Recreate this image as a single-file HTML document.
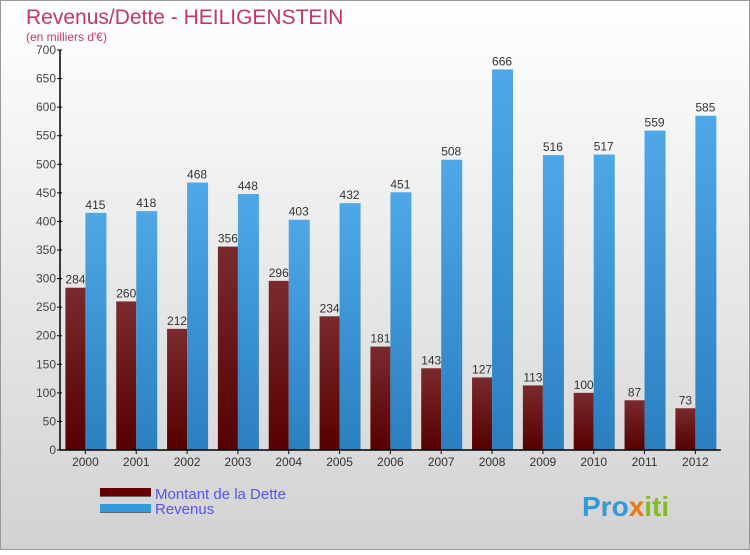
<!DOCTYPE html>
<html><head><meta charset="utf-8"><style>
body{margin:0;width:750px;height:550px;overflow:hidden;font-family:"Liberation Sans",sans-serif}
</style></head><body>
<svg width="750" height="550" xmlns="http://www.w3.org/2000/svg">
<defs>
<linearGradient id="bg" x1="0" y1="0" x2="0" y2="1"><stop offset="0" stop-color="#ffffff"/><stop offset="1" stop-color="#d2d2d2"/></linearGradient>
<linearGradient id="gd" x1="0" y1="0" x2="0" y2="1"><stop offset="0" stop-color="#7a2a2e"/><stop offset="1" stop-color="#560000"/></linearGradient>
<linearGradient id="gr" x1="0" y1="0" x2="0" y2="1"><stop offset="0" stop-color="#4ea8e8"/><stop offset="1" stop-color="#2a7fbf"/></linearGradient>
</defs>
<rect x="0.5" y="0.5" width="749" height="549" fill="url(#bg)" stroke="#999"/>
<text x="26" y="24" font-size="21" fill="#c0386a">Revenus/Dette - HEILIGENSTEIN</text>
<text x="26" y="41" font-size="12" fill="#c0386a">(en milliers d'€)</text>
<g id="plot"></g>
<g>
<rect x="100" y="489" width="51" height="8" fill="#666"/><rect x="100" y="488" width="51" height="8" fill="#660000"/>
<text x="155" y="499" font-size="15" fill="#5555ee">Montant de la Dette</text>
<rect x="100" y="505" width="51" height="8" fill="#666"/><rect x="100" y="504" width="51" height="8" fill="#3399dd"/>
<text x="155" y="514" font-size="15" fill="#5555ee">Revenus</text>
</g>
<text x="582" y="516" font-size="28" font-weight="bold" fill="#3399dd">Pro<tspan fill="#ee7711">x</tspan><tspan fill="#88bb22">iti</tspan></text>
</svg>
<script>
const categories=["2000","2001","2002","2003","2004","2005","2006","2007","2008","2009","2010","2011","2012"];
const dette=[284,260,212,356,296,234,181,143,127,113,100,87,73];
const revenus=[415,418,468,448,403,432,451,508,666,516,517,559,585];
const yTicks=[0,50,100,150,200,250,300,350,400,450,500,550,600,650,700];
const NS="http://www.w3.org/2000/svg";
const g=document.getElementById('plot');
const x0=60,step=50.83,yb=450,yMax=700,ph=400;
const y=v=>yb-v/yMax*ph;
function el(t,a){const e=document.createElementNS(NS,t);for(const k in a)e.setAttribute(k,a[k]);g.appendChild(e);return e;}
categories.forEach((c,i)=>{
 const cx=x0+step*(i+0.5);
 const d=el('rect',{x:cx-20,y:y(dette[i]),width:20,height:yb-y(dette[i]),fill:'url(#gd)'});
 
 
 const r=el('rect',{x:cx,y:y(revenus[i]),width:21,height:yb-y(revenus[i]),fill:'url(#gr)'});
 
 
 const t1=el('text',{x:cx-10,y:y(dette[i])-4,'font-size':12,fill:'#333','text-anchor':'middle'});t1.textContent=dette[i];
 
 
 const t2=el('text',{x:cx+10,y:y(revenus[i])-4,'font-size':12,fill:'#333','text-anchor':'middle'});t2.textContent=revenus[i];
 
 
 el('line',{x1:cx,x2:cx,y1:yb,y2:yb+4,stroke:'#000'});
 const xl=el('text',{x:cx,y:466,'font-size':12,fill:'#333','text-anchor':'middle'});xl.textContent=c;
 
 
});
yTicks.forEach(v=>{
 el('line',{x1:x0-3,x2:x0+2,y1:y(v),y2:y(v),stroke:'#000'});
 const t=el('text',{x:x0-4,y:y(v)+4,'font-size':12,fill:'#444','text-anchor':'end'});t.textContent=v;
 
 
});
const ax=el('line',{x1:x0,x2:x0,y1:y(700),y2:yb,stroke:'#000','stroke-width':1.5});


const bx=el('line',{x1:x0,x2:x0+step*13,y1:yb,y2:yb,stroke:'#000','stroke-width':1.5});


</script>
</body></html>
